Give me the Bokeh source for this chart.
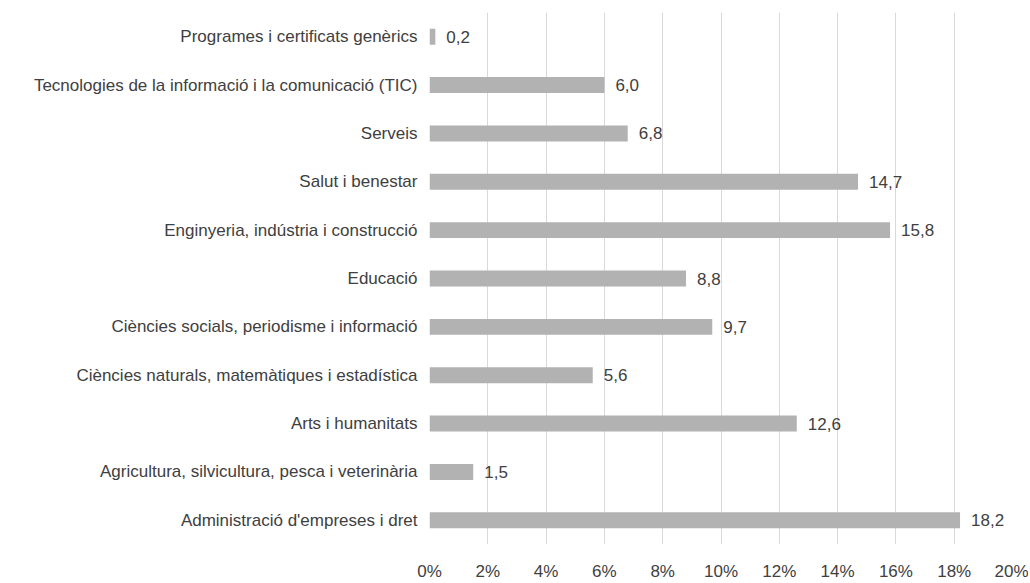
from bokeh.plotting import figure
from bokeh.models import ColumnDataSource, Range1d, FactorRange, SingleIntervalTicker, PrintfTickFormatter
from bokeh.core.properties import value
from bokeh.embed import file_html
from bokeh.resources import INLINE

categories = [
    "Administració d'empreses i dret",
    "Agricultura, silvicultura, pesca i veterinària",
    "Arts i humanitats",
    "Ciències naturals, matemàtiques i estadística",
    "Ciències socials, periodisme i informació",
    "Educació",
    "Enginyeria, indústria i construcció",
    "Salut i benestar",
    "Serveis",
    "Tecnologies de la informació i la comunicació (TIC)",
    "Programes i certificats genèrics",
]
values = [18.2, 1.5, 12.6, 5.6, 9.7, 8.8, 15.8, 14.7, 6.8, 6.0, 0.2]
labels = [f"{v:.1f}".replace(".", ",") for v in values]

FONT = "Liberation Sans"
TXT = "#404040"
FS = "17px"

src = ColumnDataSource(dict(cat=categories, val=values, lab=labels))

p = figure(width=1028, height=583, output_backend="svg", toolbar_location=None,
           y_range=FactorRange(factors=categories), x_range=Range1d(0, 20),
           min_border_left=429, min_border_right=16, min_border_top=12, min_border_bottom=38)

p.hbar(y="cat", right="val", left=0, height=0.33, source=src, color="#b2b2b2", line_color=None)
p.text(x="val", y="cat", text="lab", source=src, x_offset=11, text_baseline="middle",
       text_align="left", text_font=value(FONT), text_font_size=FS, text_color=TXT)

p.outline_line_color = None
p.ygrid.grid_line_color = None
p.xgrid.grid_line_color = "#d9d9d9"
p.xaxis.ticker = SingleIntervalTicker(interval=2)
p.xaxis.formatter = PrintfTickFormatter(format="%d%%")
for ax in (p.xaxis, p.yaxis):
    ax.axis_line_color = None
    ax.major_tick_line_color = None
    ax.minor_tick_line_color = None
    ax.major_tick_out = 0
    ax.major_tick_in = 0
    ax.minor_tick_out = 0
    ax.major_label_text_font = FONT
    ax.major_label_text_font_size = FS
    ax.major_label_text_color = TXT
p.xaxis.major_label_standoff = 17
p.yaxis.major_label_standoff = 12

open("out.html", "w").write(file_html(p, INLINE))
